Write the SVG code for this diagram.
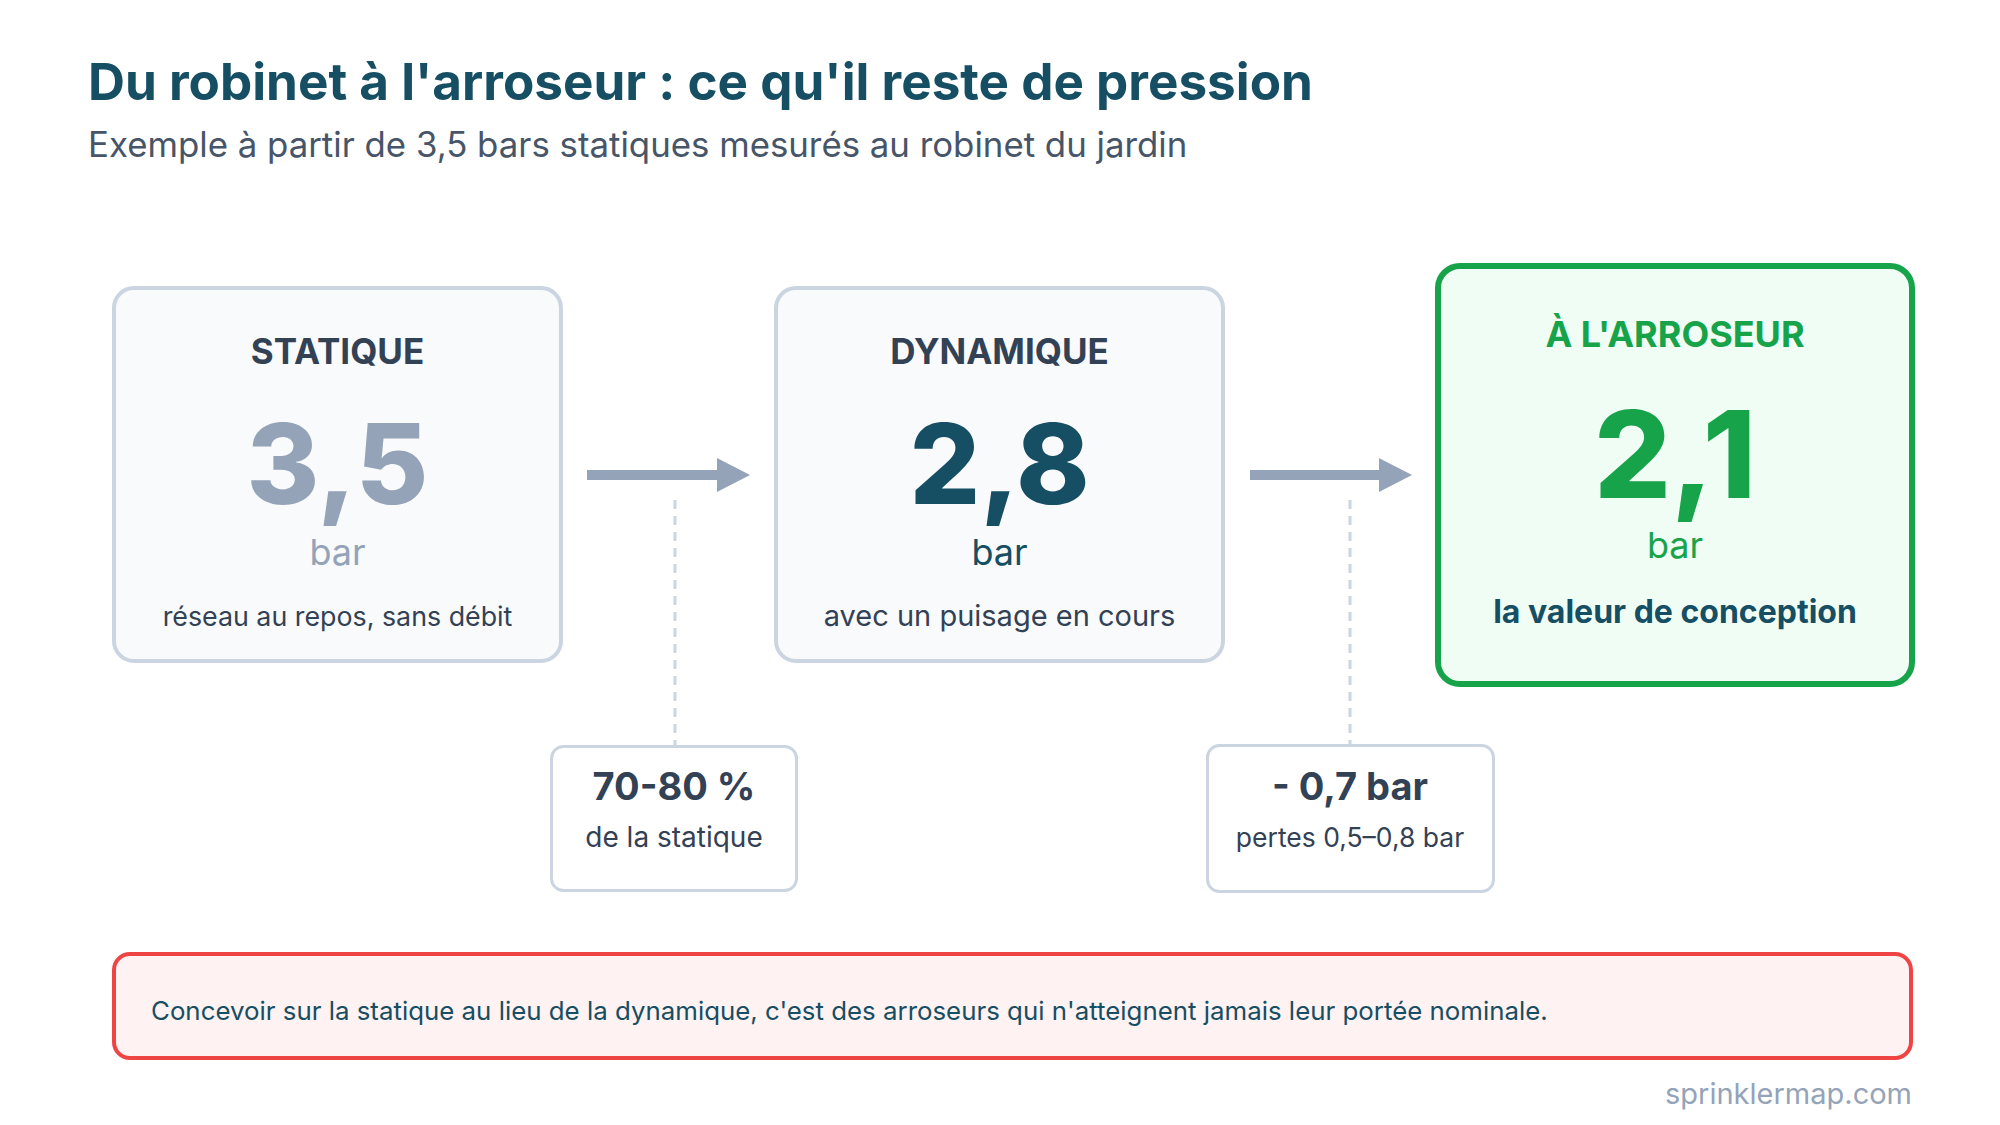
<svg xmlns="http://www.w3.org/2000/svg" width="2000" height="1125" viewBox="0 0 2000 1125">
<defs>
<style>
text{font-family:Inter,"Noto Sans","Liberation Sans",sans-serif}
.title{font-size:51.2px;font-weight:700;fill:#164e63}
.sub{font-size:34.8px;font-weight:400;fill:#475569}
.card{fill:#f8fafc;stroke:#cbd5e1;stroke-width:4}
.head{font-size:35px;font-weight:700;fill:#334155;text-anchor:middle}
.big{font-size:111px;font-weight:800;text-anchor:middle}
.unit{font-size:36px;font-weight:400;text-anchor:middle}
.desc{font-size:28px;font-weight:400;fill:#334155;text-anchor:middle}
.note{fill:#ffffff;stroke:#cbd5e1;stroke-width:3}
.noteh{font-size:38px;font-weight:700;fill:#334155;text-anchor:middle}
.notes{font-size:28px;font-weight:400;fill:#334155;text-anchor:middle}
.arrow{stroke:#94a3b8;stroke-width:10;fill:none}
.dash{stroke:#cbd5e1;stroke-width:3;stroke-dasharray:9 7;fill:none}
</style>
<marker id="ah" viewBox="0 0 33 34" refX="3" refY="17" markerWidth="33" markerHeight="34" markerUnits="userSpaceOnUse" orient="auto">
<path d="M0,0 L33,17 L0,34 Z" fill="#94a3b8"/>
</marker>
</defs>
<rect width="2000" height="1125" fill="#ffffff"/>
<g id="header">
<text class="title" x="88" y="100">Du robinet à l'arroseur : ce qu'il reste de pression</text>
<text class="sub" x="88" y="157">Exemple à partir de 3,5 bars statiques mesurés au robinet du jardin</text>
</g>
<g id="connectors">
<line class="arrow" x1="587" y1="475" x2="720" y2="475" marker-end="url(#ah)"/>
<line class="arrow" x1="1250" y1="475" x2="1382" y2="475" marker-end="url(#ah)"/>
<line class="dash" x1="675" y1="500" x2="675" y2="745"/>
<line class="dash" x1="1350" y1="500" x2="1350" y2="745"/>
</g>
<g id="statique">
<rect class="card" x="114" y="288" width="447" height="373" rx="20"/>
<text class="head" x="337.5" y="364">STATIQUE</text>
<text class="big" x="337.5" y="504" fill="#94a3b8">3,5</text>
<text class="unit" x="337.5" y="565" fill="#94a3b8">bar</text>
<text class="desc" x="337.5" y="626" style="font-size:26.8px">réseau au repos, sans débit</text>
</g>
<g id="dynamique">
<rect class="card" x="776" y="288" width="447" height="373" rx="20"/>
<text class="head" x="999.5" y="364">DYNAMIQUE</text>
<text class="big" x="999.5" y="504" fill="#164e63">2,8</text>
<text class="unit" x="999.5" y="565" fill="#164e63">bar</text>
<text class="desc" x="999.5" y="626" style="font-size:29px">avec un puisage en cours</text>
</g>
<g id="arroseur">
<rect x="1438" y="266" width="474" height="418" rx="22" fill="#f0fdf4" stroke="#16a34a" stroke-width="6"/>
<text class="head" x="1675" y="347" style="fill:#16a34a;font-size:36px">À L'ARROSEUR</text>
<text class="big" x="1675" y="498" fill="#16a34a" style="font-size:121px">2,1</text>
<text class="unit" x="1675" y="558" fill="#16a34a">bar</text>
<text x="1675" y="623" style="font-size:32px;font-weight:700;fill:#164e63;text-anchor:middle">la valeur de conception</text>
</g>
<g id="ratio">
<rect class="note" x="551.5" y="746.5" width="245" height="144" rx="12"/>
<text class="noteh" x="674" y="800">70-80 %</text>
<text class="notes" x="674" y="847">de la statique</text>
</g>
<g id="pertes">
<rect class="note" x="1207.5" y="745.5" width="286" height="146" rx="12"/>
<text class="noteh" x="1350" y="800">- 0,7 bar</text>
<text class="notes" x="1350" y="847" style="font-size:26.5px">pertes 0,5–0,8 bar</text>
</g>
<g id="warning">
<rect x="114" y="954" width="1797" height="104" rx="16" fill="#fef2f2" stroke="#ef4444" stroke-width="4"/>
<text x="151" y="1020" style="font-size:25.85px;font-weight:400;fill:#164e63">Concevoir sur la statique au lieu de la dynamique, c'est des arroseurs qui n'atteignent jamais leur portée nominale.</text>
</g>
<g id="footer">
<text x="1912" y="1104" style="font-size:29px;font-weight:400;fill:#94a3b8;text-anchor:end">sprinklermap.com</text>
</g>
</svg>
